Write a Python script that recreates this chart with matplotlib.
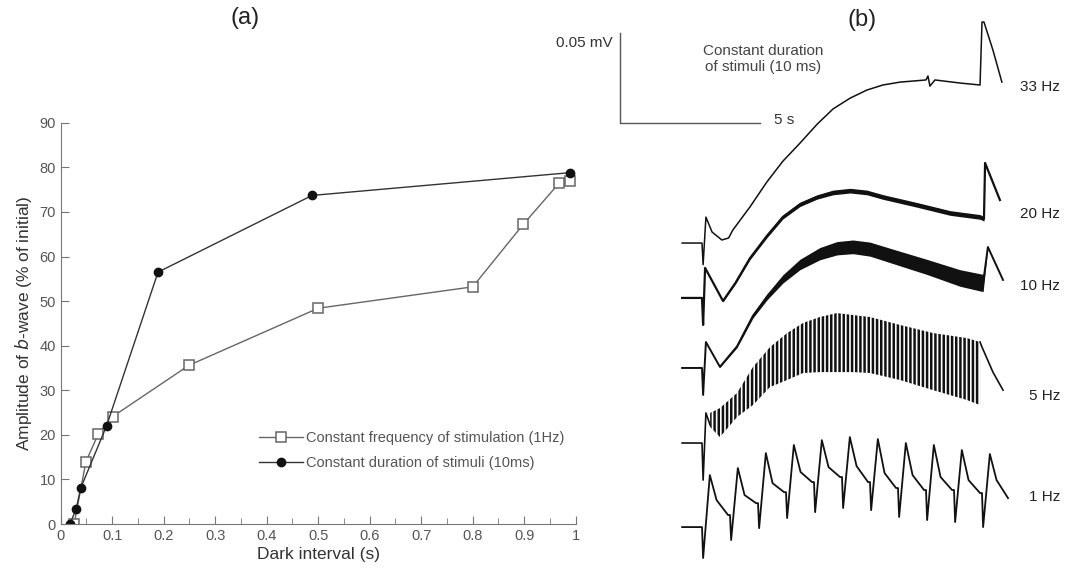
import numpy as np
import matplotlib
matplotlib.use('Agg')
from matplotlib import pyplot as plt
from matplotlib.ticker import MultipleLocator

plt.rcParams['font.family'] = ['Liberation Sans', 'DejaVu Sans']
plt.rcParams['hatch.linewidth'] = 1.8

# ---- panel (a): b-wave amplitude vs dark interval ----
freq_x = [0.026, 0.049, 0.073, 0.101, 0.249, 0.500, 0.800, 0.898, 0.968, 0.988]
freq_y = [0, 14.0, 20.2, 24.1, 35.6, 48.4, 53.2, 67.2, 76.5, 77.0]
dur_x = [0.018, 0.030, 0.039, 0.089, 0.189, 0.488, 0.988]
dur_y = [0, 3.4, 8.1, 22.0, 56.5, 73.7, 78.8]
freq_label = 'Constant frequency of stimulation (1Hz)'
dur_label = 'Constant duration of stimuli (10ms)'

# ---- panel (b): ERG traces, time in s, amplitude in uV from each baseline ----
t33 = [-0.71, -0.07, 0.0, 0.04, 0.14, 0.36, 0.71, 0.95, 1.1, 1.71, 2.32, 2.89, 3.47,
       4.11, 4.68, 5.29, 5.89, 6.46, 7.07, 8.0, 8.07, 8.14, 8.32, 9.21, 9.93,
       10.0, 10.07, 10.39, 10.71]
v33 = [0, 0, 0, -12, 14.4, 6.1, 1.7, 2.8, 7.2, 20.0, 34.0, 45.5, 55.0,
       66.0, 74.5, 80.5, 85.0, 87.8, 89.4, 90.6, 92.8, 87.2, 90.6, 88.9, 87.8,
       122.8, 122.8, 107.2, 89.4]

t20 = [-0.71, -0.07, 0.0, 0.04, 0.11, 0.75, 1.2, 1.71, 2.32, 2.89, 3.5, 4.11,
       4.68, 5.29, 5.89, 6.46, 7.68, 8.86, 9.93, 10.07, 10.11, 10.64]
v20 = [0, 0, 0, -15, 16.7, -1.7, 8.5, 22.0, 34.5, 45.0, 52.0, 56.1,
       58.6, 59.6, 58.6, 56.1, 51.7, 47.2, 45.0, 43.9, 75.0, 54.4]
w20 = [0, 0, 0, 0, 0, 0.4, 0.6, 0.8, 1.0, 1.1, 1.2, 1.2,
       1.3, 1.3, 1.3, 1.3, 1.3, 1.3, 1.3, 1.2, 0, 0]

t10 = [-0.71, -0.07, 0.0, 0.04, 0.14, 0.64, 1.25, 1.82, 2.32, 2.89, 3.5, 4.21,
       4.82, 5.39, 6.0, 6.82, 8.04, 9.21, 10.04, 10.21, 10.75]
v10 = [0, 0, 0, -15, 14.4, 0.6, 12.0, 29.0, 39.5, 49.5, 57.5, 63.5,
       66.5, 67.3, 66.0, 62.0, 56.1, 50.0, 47.2, 67.2, 48.9]
w10 = [0, 0, 0, 0, 0, 0.3, 0.7, 1.2, 1.7, 2.3, 2.9, 3.4,
       3.7, 3.8, 3.9, 4.0, 4.2, 4.6, 4.8, 0, 0]

t5_head = [-0.71, -0.07, 0.0, 0.04, 0.14, 0.29]
v5_head = [0, 0, 0, -20.6, 16.7, 10.0]
t5_env = [0.29, 0.64, 1.25, 1.82, 2.43, 3.04, 3.61, 4.21, 4.82, 5.39, 6.0,
          7.07, 8.25, 9.46, 9.93]
v5_upper = [16.7, 19.4, 27.8, 42.2, 53.3, 61.1, 66.7, 70.0, 72.2, 71.1, 70.0,
            65.6, 61.1, 58.3, 56.1]
v5_lower = [8.9, 3.3, 14.4, 21.1, 31.1, 35.0, 38.9, 39.4, 39.4, 39.4, 38.9,
            35.0, 29.4, 23.9, 21.1]
t5_tail = [9.93, 10.0, 10.39, 10.75]
v5_tail = [56.1, 53.3, 39.4, 29.4]

flash_1hz = [0, 1, 2, 3, 4, 5, 6, 7, 8, 9, 10]
dip_1hz = [-17.2, -7.2, -0.6, 5.0, 8.3, 10.6, 9.4, 5.6, 3.9, 2.8, 0.0]
peak_1hz = [28.9, 32.8, 41.1, 45.6, 48.3, 50.0, 48.9, 46.7, 45.6, 42.8, 40.6]
knee_1hz = [15.0, 17.8, 24.4, 30.6, 33.3, 33.9, 30.0, 28.9, 27.8, 26.1, 26.1]
shoulder_1hz = [6.7, 13.3, 19.4, 25.0, 27.8, 25.0, 21.7, 20.6, 20.6, 18.9, 16.1]

trace_names = ['33 Hz', '20 Hz', '10 Hz', '5 Hz', '1 Hz']

# layout (uV positions of baselines and labels in panel b)
offsets = [182.2, 151.7, 112.8, 71.1, 24.4]
label_y = [268.9, 198.3, 158.3, 97.2, 41.1]

fig = plt.figure(figsize=(10.65, 5.71), dpi=100)

# ================= (a) =================
gray = '#555555'
ax = fig.add_axes([0.057, 0.0823, 0.4836, 0.7027])
ax.plot(freq_x, freq_y, '-s', color='#666666', lw=1.0, ms=6.5,
        mfc='white', mec='#666666', mew=1.1, label=freq_label)
ax.plot(dur_x, dur_y, '-o', color='#333333', lw=1.0, ms=6,
        mfc='#111111', mec='#111111', label=dur_label)
ax.set_xlim(0, 1)
ax.set_ylim(0, 90)
ax.xaxis.set_minor_locator(MultipleLocator(0.05))
ax.yaxis.set_major_locator(MultipleLocator(10))
ax.set_xticks(np.arange(0, 1.01, 0.1))
ax.set_xticklabels(['0', '0.1', '0.2', '0.3', '0.4', '0.5', '0.6', '0.7', '0.8', '0.9', '1'])
for s in ['top', 'right']:
    ax.spines[s].set_visible(False)
for s in ['left', 'bottom']:
    ax.spines[s].set_color('#777777')
ax.tick_params(which='both', direction='in', colors='#777777', labelcolor=gray, labelsize=10.5)
ax.tick_params(which='major', length=6)
ax.tick_params(which='minor', length=4)
ax.set_xlabel('Dark interval (s)', fontsize=12.5, color='#333333', labelpad=3)
ax.set_ylabel('Amplitude of $b$-wave (% of initial)', fontsize=12.5, color='#333333', labelpad=4)
leg = ax.legend(loc='center left', bbox_to_anchor=(0.385, 0.184), frameon=False,
                fontsize=10.5, handlelength=3.0, handletextpad=0.2,
                labelspacing=0.75, borderpad=0, borderaxespad=0)
for txt in leg.get_texts():
    txt.set_color(gray)
fig.text(245 / 1065, 1 - 18 / 571, '(a)', fontsize=17, color='#222222', ha='center', va='center')

# ================= (b) =================
bx = fig.add_axes([600 / 1065, 0, 465 / 1065, 1])
bx.set_xlim((600 - 702) / 28, (1065 - 702) / 28)
bx.set_ylim(0, 571 * 0.05 / 90 * 1000)
bx.axis('off')
ink = '#111111'

# 33 Hz
bx.plot(t33, np.array(v33) + offsets[0], color=ink, lw=1.1)

# 20 Hz
v = np.array(v20) + offsets[1]
w = np.array(w20)
bx.fill_between(t20, v - w, v + w, color=ink, lw=0)
bx.plot(t20, v, color=ink, lw=1.6)

# 10 Hz
v = np.array(v10) + offsets[2]
w = np.array(w10)
bx.fill_between(t10, v - w, v + w, color=ink, lw=0)
bx.plot(t10, v, color=ink, lw=1.4)

# 5 Hz: oscillation band drawn as dense vertical strokes
bx.plot(t5_head, np.array(v5_head) + offsets[3], color=ink, lw=1.2)
bx.fill_between(t5_env, np.array(v5_lower) + offsets[3], np.array(v5_upper) + offsets[3],
                facecolor='none', edgecolor=ink, hatch='||||', lw=0)
bx.plot(t5_tail, np.array(v5_tail) + offsets[3], color=ink, lw=1.2)

# 1 Hz
t1 = [-0.71, -0.05]
v1 = [0.0, 0.0]
prev = 0.0
for k, tf in enumerate(flash_1hz):
    t1 += [tf, tf + 0.04, tf + 0.28, tf + 0.52, tf + 0.93]
    v1 += [prev, dip_1hz[k], peak_1hz[k], knee_1hz[k], shoulder_1hz[k]]
    prev = shoulder_1hz[k]
bx.plot(t1, np.array(v1) + offsets[4], color=ink, lw=1.3)

for name, y in zip(trace_names, label_y):
    bx.text((1060 - 702) / 28, y, name, fontsize=11, color='#222222', ha='right', va='center')

# scale bar
sb_t, sb_v = (620 - 702) / 28, 248.9
bx.plot([sb_t, sb_t, sb_t + 5], [sb_v + 50, sb_v, sb_v], color='#555555', lw=1.0)
bx.text(sb_t - 0.28, sb_v + 44.5, '0.05 mV', fontsize=11, color='#333333', ha='right', va='center')
bx.text(sb_t + 5.5, sb_v + 1.7, '5 s', fontsize=11, color='#333333', ha='left', va='center')
bx.text(2.18, 284.4, 'Constant duration\nof stimuli (10 ms)', fontsize=11, color='#444444',
        ha='center', va='center', linespacing=1.15)
bx.text(5.71, 306, '(b)', fontsize=17, color='#222222', ha='center', va='center')

plt.savefig('out.png', dpi=100)
